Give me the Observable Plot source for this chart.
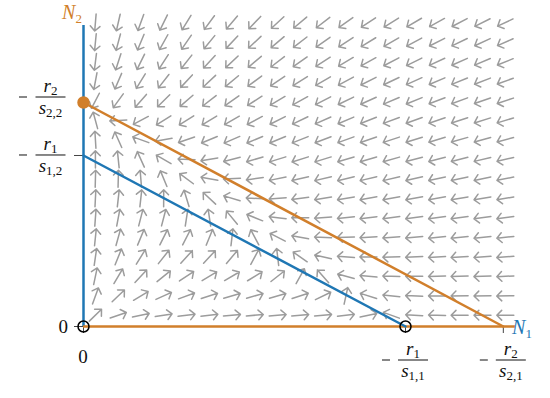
<!DOCTYPE html>
<html><head><meta charset="utf-8">
<script src="https://cdn.jsdelivr.net/npm/d3@7"></script>
<script src="https://cdn.jsdelivr.net/npm/@observablehq/plot@0.6"></script>
<style>body{margin:0;background:#fff}</style>
</head><body><div id="chart"></div>
<script>
// Model parameters (Lotka–Volterra competition), read from the nullcline intercepts
const r1 = 1, s11 = -1, s12 = -1.883;
const r2 = 1, s21 = -0.767, s22 = -1.4375;
const K1 = -r1 / s11, A1 = -r1 / s12, K2x = -r2 / s21, K2 = -r2 / s22;
const xMax = 1.3416, yMax = 0.9348;

// Sample points of the direction field
const gridN1 = [0.037, 0.108, 0.178, 0.249, 0.320, 0.391, 0.461, 0.532, 0.603, 0.673,
                0.744, 0.815, 0.885, 0.956, 1.027, 1.098, 1.168, 1.239, 1.310];
const gridN2 = [0.035, 0.095, 0.156, 0.216, 0.277, 0.338, 0.398, 0.459, 0.519, 0.580,
                0.640, 0.701, 0.762, 0.822, 0.883, 0.944];

const xTicks = [0, K1, K2x];
const yTicks = [0, A1];
const blue = "#1f77b4", orange = "#d17f2b";

const field = [];
for (const n1 of gridN1) for (const n2 of gridN2) {
  const d1 = n1 * (r1 + s11 * n1 + s12 * n2);
  const d2 = n2 * (r2 + s21 * n1 + s22 * n2);
  field.push({n1, n2, angle: Math.atan2(d1, d2) * 180 / Math.PI});
}
const null1 = [{n1: 0, n2: A1}, {n1: K1, n2: 0}];
const null2 = [{n1: 0, n2: K2}, {n1: K2x, n2: 0}];
const saddles = [{n1: 0, n2: 0}, {n1: K1, n2: 0}];
const stable = [{n1: 0, n2: K2}];

const serif = "'Liberation Serif', 'DejaVu Serif', serif";

function labels(index, scales) {
  const X = scales.x, Y = scales.y;
  const x0 = X(0), y0 = Y(0);
  const g = d3.create("svg:g").attr("font-family", serif).attr("fill", "#111");
  function frac(cx, by, num, nsub, den, dsub, mx) {
    g.append("line").attr("x1", cx - 15).attr("x2", cx + 15).attr("y1", by).attr("y2", by)
      .attr("stroke", "#111").attr("stroke-width", 1);
    const t1 = g.append("text").attr("x", cx).attr("y", by - 5).attr("text-anchor", "middle")
      .attr("font-size", 19);
    t1.append("tspan").attr("font-style", "italic").text(num);
    t1.append("tspan").attr("font-size", 13).attr("dy", 3).text(nsub);
    const t2 = g.append("text").attr("x", cx).attr("y", by + 17).attr("text-anchor", "middle")
      .attr("font-size", 19);
    t2.append("tspan").attr("font-style", "italic").text(den);
    t2.append("tspan").attr("font-size", 13).attr("dy", 3).text(dsub);
    g.append("line").attr("x1", mx - 4).attr("x2", mx + 4).attr("y1", by).attr("y2", by)
      .attr("stroke", "#111").attr("stroke-width", 1);
  }
  // y-axis labels
  frac(x0 - 32.5, Y(A1), "r", "1", "s", "1,2", x0 - 60);
  frac(x0 - 32.5, Y(K2) - 5, "r", "2", "s", "2,2", x0 - 60);
  // x-axis labels
  frac(X(K1) + 8, y0 + 34, "r", "1", "s", "1,1", X(K1) - 19);
  frac(X(K2x) + 8, y0 + 34, "r", "2", "s", "2,1", X(K2x) - 19);
  g.append("text").attr("x", x0 - 15).attr("y", y0 + 7).attr("text-anchor", "end")
    .attr("font-size", 19).text("0");
  g.append("text").attr("x", x0).attr("y", y0 + 37).attr("text-anchor", "middle")
    .attr("font-size", 19).text("0");
  // axis names
  const n1 = g.append("text").attr("x", X(xMax) + 7).attr("y", y0 + 8).attr("fill", blue)
    .attr("font-size", 20);
  n1.append("tspan").attr("font-style", "italic").text("N");
  n1.append("tspan").attr("font-size", 13).attr("dy", 4).text("1");
  const n2 = g.append("text").attr("x", x0 - 11).attr("y", Y(yMax) - 6).attr("fill", orange)
    .attr("font-size", 20);
  n2.append("tspan").attr("font-style", "italic").text("N");
  n2.append("tspan").attr("font-size", 13).attr("dy", 4).text("2");
  return g.node();
}

const chart = Plot.plot({
  width: 550, height: 398,
  marginLeft: 83, marginRight: 35, marginTop: 25, marginBottom: 72,
  x: {domain: [0, xMax], axis: null},
  y: {domain: [0, yMax], axis: null},
  marks: [
    Plot.vector(field, {x: "n1", y: "n2", rotate: "angle", length: 17, anchor: "middle",
      stroke: "#9c9c9c", strokeWidth: 1.5, r: 5}),
    Plot.axisX({ticks: xTicks, tickSize: 7, tickFormat: () => "", label: null, stroke: "#444", anchor: "bottom"}),
    Plot.axisY({ticks: yTicks, tickSize: 9, tickFormat: () => "", label: null, stroke: "#444", anchor: "left"}),
    Plot.ruleX([0], {y1: 0, y2: yMax, stroke: blue, strokeWidth: 2.5}),
    Plot.ruleY([0], {x1: 0, x2: xMax, stroke: orange, strokeWidth: 2.5}),
    Plot.line(null1, {x: "n1", y: "n2", stroke: blue, strokeWidth: 2.5}),
    Plot.line(null2, {x: "n1", y: "n2", stroke: orange, strokeWidth: 2.5}),
    Plot.dot(saddles, {x: "n1", y: "n2", r: 5.5, stroke: "#000", strokeWidth: 1.5, fill: "none"}),
    Plot.dot(stable, {x: "n1", y: "n2", r: 5.5, fill: orange, stroke: orange}),
    labels
  ]
});
document.getElementById("chart").appendChild(chart);
</script>
</body></html>
